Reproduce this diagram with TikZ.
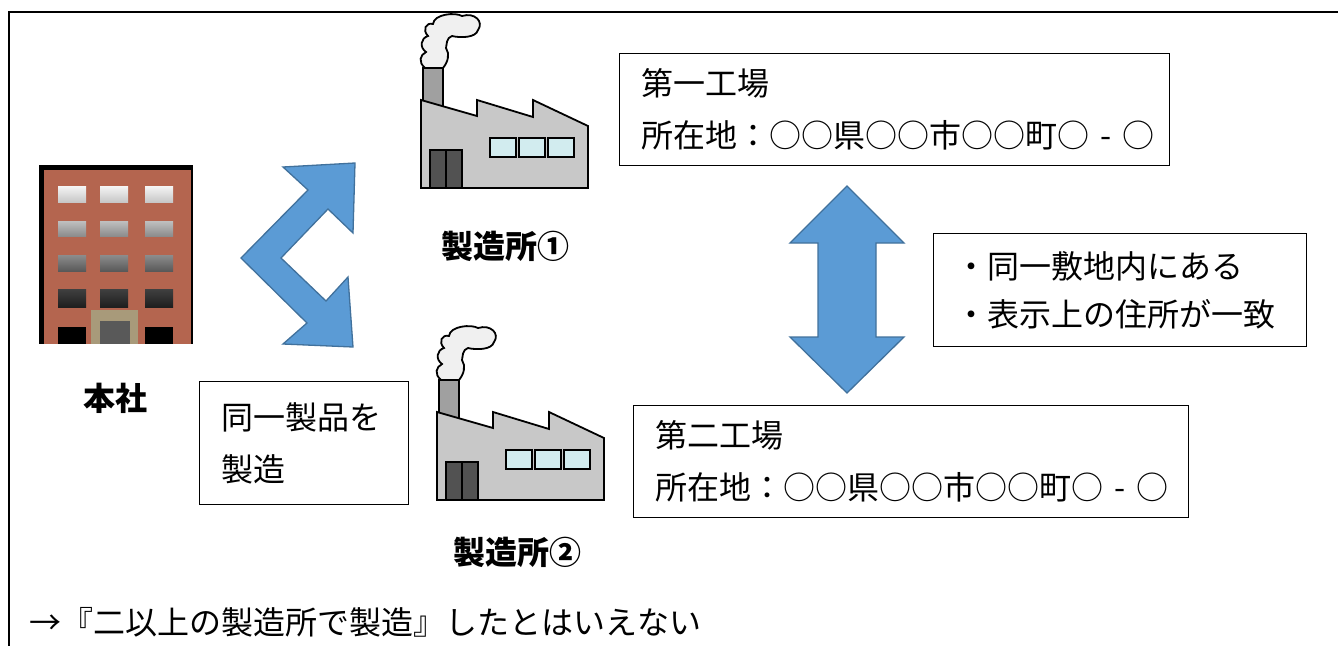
\documentclass[tikz,border=0pt]{standalone}
\usepackage{fontspec}
\setmainfont{Noto Sans CJK JP}
\definecolor{shapeblue}{HTML}{5B9BD5}
\definecolor{shapeedge}{HTML}{41719C}
\definecolor{brick}{HTML}{B4654F}
\definecolor{wallgray}{HTML}{C8C8C8}
\definecolor{pipegray}{HTML}{A0A0A0}
\definecolor{glass}{HTML}{D2ECEF}
\definecolor{doortan}{HTML}{A89A7A}
\newcommand{\addr}{\mbox{所在地：○○県○○市○○町○\hspace{0.35em}-\hspace{0.35em}○}}
\tikzset{
	bluearrow/.style={fill=shapeblue,draw=shapeedge,line width=1.3pt,line join=miter},
	txtbox/.style={draw,line width=0.9pt,anchor=north west,align=left,inner xsep=22pt,font=\fontsize{32}{52}\selectfont},
	lbl/.style={font=\bfseries\fontsize{32}{32}\selectfont},
	factory/.pic={
		\draw[fill=pipegray,line width=1.8pt] (3,-120) rectangle (23,-80);
		\draw[fill=black!6,line width=1.8pt] (5,-120) .. controls (-2,-126) and (0,-133) .. (6,-136)
			.. controls (-1,-141) and (1,-150) .. (8,-152) .. controls (2,-158) and (6,-166) .. (13,-164)
			.. controls (14,-174) and (35,-176) .. (42,-172) .. controls (55,-176) and (64,-166) .. (58,-158)
			.. controls (56,-150) and (40,-150) .. (32,-152) .. controls (26,-150) and (27,-144) .. (26,-140)
			.. controls (30,-134) and (28,-126) .. (23,-120) -- cycle;
		\draw[fill=wallgray,line width=1.8pt,line join=miter] (1,0) -- (1,-88) -- (57,-72) -- (57,-88) -- (113,-71)
			-- (113,-88) -- (168,-62) -- (168,0) -- cycle;
		\foreach \wx in {70,99,128}
			\draw[fill=glass,line width=1.8pt] (\wx,-50) rectangle +(26,19);
		\draw[fill=black!68,line width=1.8pt] (10,-38) rectangle (42,0);
		\draw[line width=1.2pt] (26,-38) -- (26,0);
	}
}
\begin{document}
\begin{tikzpicture}[x=1pt,y=-1pt]
	\useasboundingbox (0,0) rectangle (1338,646);
	\draw[line width=1.4pt] (1338,12) -- (9,12) -- (9,646);

	\fill[black] (39,165) rectangle (193,344);
	\fill[brick] (44,170) rectangle (191,344);
	\foreach \wx in {58,100,145} {
		\shade[top color=black!4,bottom color=black!22] (\wx,186) rectangle +(28,16);
		\shade[top color=black!25,bottom color=black!45] (\wx,221) rectangle +(28,15);
		\shade[top color=black!45,bottom color=black!65] (\wx,255) rectangle +(28,16);
		\shade[top color=black!75,bottom color=black!88] (\wx,289) rectangle +(28,18);
	}
	\fill[black] (58,327) rectangle (86,344);
	\fill[black] (145,327) rectangle (173,344);
	\fill[doortan] (91,310) rectangle (138,344);
	\fill[black!65] (100,321) rectangle (130,344);
	\node[lbl] (hq) at (115,398) {本社};

	\draw[bluearrow] (355,163) -- (353,233) -- (328,209) -- (281,258) -- (326,301) -- (348,277)
		-- (353,347) -- (283,344) -- (307,323) -- (241,258) -- (308,190) -- (283,167) -- cycle;

	\pic at (420,188) {factory};
	\pic at (436,500) {factory};
	\node[lbl] (plant1) at (505,246) {製造所①};
	\node[lbl] (plant2) at (517,552) {製造所②};

	\node[txtbox,minimum width=550pt,minimum height=112pt,text width=506pt] (site1) at (619,53)
		{第一工場\\\addr};
	\node[txtbox,minimum width=555pt,minimum height=112pt,text width=511pt] (site2) at (633,405)
		{第二工場\\\addr};
	\node[txtbox,minimum width=209pt,minimum height=123pt,text width=165pt] (same) at (199,381)
		{同一製品を\\製造};
	\node[txtbox,minimum width=373pt,minimum height=113pt,text width=329pt,font=\fontsize{32}{48}\selectfont] (cond) at (933,233)
		{・同一敷地内にある\\・表示上の住所が一致};

	\draw[bluearrow] (847,186) -- (904,243) -- (876,243) -- (876,337) -- (904,337) -- (847,393)
		-- (790,337) -- (818,337) -- (818,243) -- (790,243) -- cycle;

	\node[anchor=west,font=\fontsize{32}{32}\selectfont] (result) at (26,622) {→『二以上の製造所で製造』したとはいえない};
\end{tikzpicture}
\end{document}
